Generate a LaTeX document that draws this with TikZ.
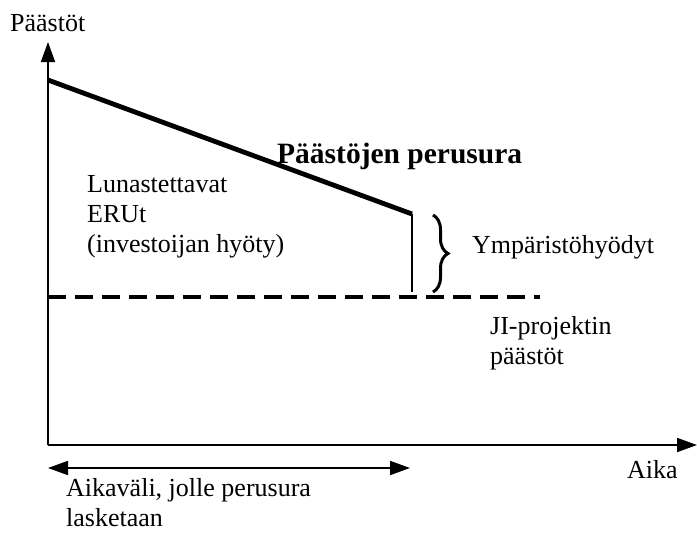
\documentclass[tikz,border=0pt]{standalone}
\usepackage{fontspec}
\setmainfont{Liberation Serif}
\usetikzlibrary{arrows.meta,decorations.pathreplacing}
\begin{document}
\begin{tikzpicture}[x=1pt,y=-1pt,
  lbl/.style={anchor=base west,inner sep=0pt,font=\fontsize{26}{30}\selectfont,align=left},
  axis/.style={line width=1.8pt,-{Triangle[length=20pt,width=14pt]}},
  span/.style={line width=1.8pt,{Triangle[length=20pt,width=14pt]}-{Triangle[length=20pt,width=14pt]}},
  base/.style={line width=4.8pt},
  proj/.style={line width=4.8pt,dash pattern=on 18pt off 9pt},
  thin/.style={line width=1.4pt}]
\useasboundingbox (0,0) rectangle (697,533);
\coordinate (O) at (48,445);
\coordinate (ytip) at (48,42);
\coordinate (xtip) at (697,445);
\coordinate (b0) at (48,80);
\coordinate (b1) at (412,214);
\coordinate (v1) at (412,292);
\coordinate (d0) at (48,297);
\coordinate (d1) at (540,297);
\coordinate (s0) at (48,468);
\coordinate (s1) at (410,468);
\coordinate (br0) at (433,215);
\coordinate (br1) at (433,292);
\draw[axis] (O) -- (ytip);
\draw[axis] (O) -- (xtip);
\draw[base] (b0) -- (b1);
\draw[thin] (b1) -- (v1);
\draw[proj] (d0) -- (d1);
\draw[span] (s0) -- (s1);
\draw[line width=3pt,decorate,decoration={brace,amplitude=15pt}] (br0) -- (br1);
\node[lbl] (ylab) at (10,31) {Päästöt};
\node[lbl,font=\fontsize{29.5}{34}\selectfont\bfseries] (title) at (277,163) {Päästöjen perusura};
\node[lbl] (eru) at (87,252) {Lunastettavat\\ERUt\\(investoijan hyöty)};
\node[lbl] (ymp) at (472,253) {Ympäristöhyödyt};
\node[lbl] (ji) at (490,364) {JI-projektin\\päästöt};
\node[lbl] (aika) at (627,478) {Aika};
\node[lbl] (aikav) at (66,526) {Aikaväli, jolle perusura\\lasketaan};
\end{tikzpicture}
\end{document}
